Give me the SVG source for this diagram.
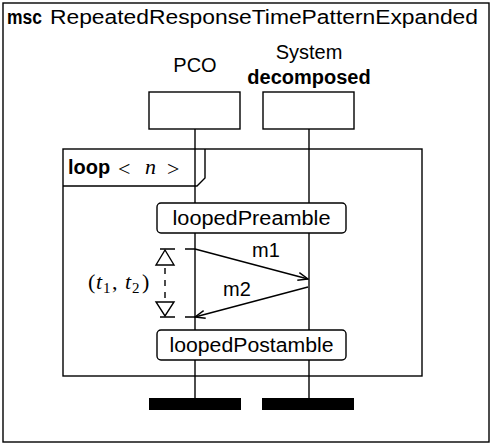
<svg xmlns="http://www.w3.org/2000/svg" width="493" height="446" viewBox="0 0 493 446">
<defs>
<style>
.ln{stroke:#000;stroke-width:1.4;fill:none}
.bx{stroke:#000;stroke-width:1.4;fill:#fff}
.t{font-family:"Liberation Sans",Arial,sans-serif;font-size:20px;fill:#000}
.b{font-weight:bold}
.m{font-family:"Liberation Serif","Times New Roman",serif;font-size:22px;fill:#000}
</style>
<marker id="arr" markerWidth="12" markerHeight="10" refX="11" refY="5" orient="auto" markerUnits="userSpaceOnUse">
<path d="M1,1 L11,5 L1,9" stroke="#000" stroke-width="1.4" fill="none"/>
</marker>
</defs>
<rect width="493" height="446" fill="#fff"/>
<g id="frame">
<rect class="ln" x="3" y="3" width="486" height="439"/>
<text class="t b" x="7" y="24" textLength="35" lengthAdjust="spacingAndGlyphs">msc</text>
<text class="t" x="50" y="24" textLength="428" lengthAdjust="spacingAndGlyphs">RepeatedResponseTimePatternExpanded</text>
</g>
<g id="loop">
<rect class="ln" x="63" y="149" width="359" height="227"/>
<path class="ln" d="M63,186 L197,186 L205,178 L205,149"/>
<text class="t b" x="68" y="174">loop</text>
<text class="m" x="118" y="176" font-size="28">&lt;</text>
<text class="m" x="145" y="174" font-style="italic">n</text>
<text class="m" x="167" y="176" font-size="28">&gt;</text>
</g>
<g id="connectors">
<line class="ln" x1="195" y1="129" x2="195" y2="399"/>
<line class="ln" x1="309" y1="129" x2="309" y2="399"/>
<line class="ln" x1="195" y1="249" x2="308" y2="279" marker-end="url(#arr)"/>
<line class="ln" x1="308" y1="287" x2="195" y2="317" marker-end="url(#arr)"/>
<path class="ln" d="M160,249 H175 M185,249 H195 M160,317 H175 M185,317 H195"/>
<line class="ln" x1="165" y1="268" x2="165" y2="300" stroke-dasharray="6,6"/>
</g>
<g id="PCO">
<text class="t" x="195" y="72" text-anchor="middle">PCO</text>
<rect class="bx" x="149" y="92" width="91" height="37"/>
<rect x="149" y="398" width="92" height="12" fill="#000"/>
</g>
<g id="System">
<text class="t" x="309" y="59" text-anchor="middle">System</text>
<text class="t b" x="309" y="84" text-anchor="middle">decomposed</text>
<rect class="bx" x="263" y="92" width="91" height="37"/>
<rect x="262" y="398" width="92" height="12" fill="#000"/>
</g>
<g id="loopedPreamble">
<rect class="bx" x="157" y="203" width="189" height="30" rx="4"/>
<text class="t" x="251.5" y="225" text-anchor="middle" textLength="158" lengthAdjust="spacingAndGlyphs">loopedPreamble</text>
</g>
<g id="loopedPostamble">
<rect class="bx" x="157" y="330" width="189" height="30" rx="4"/>
<text class="t" x="251.5" y="352" text-anchor="middle" textLength="164" lengthAdjust="spacingAndGlyphs">loopedPostamble</text>
</g>
<g id="labels">
<text class="t" x="266" y="257" text-anchor="middle">m1</text>
<text class="t" x="237" y="296" text-anchor="middle">m2</text>
<polygon class="bx" points="165,250 156,265 174,265"/>
<polygon class="bx" points="156,302 174,302 165,316"/>
<text class="m" y="289"><tspan x="88">(</tspan><tspan x="96" font-style="italic">t</tspan><tspan x="103" y="293" font-size="15">1</tspan><tspan x="112" y="289">,</tspan><tspan x="125" font-style="italic">t</tspan><tspan x="132" y="293" font-size="15">2</tspan><tspan x="142" y="289">)</tspan></text>
</g>
</svg>
